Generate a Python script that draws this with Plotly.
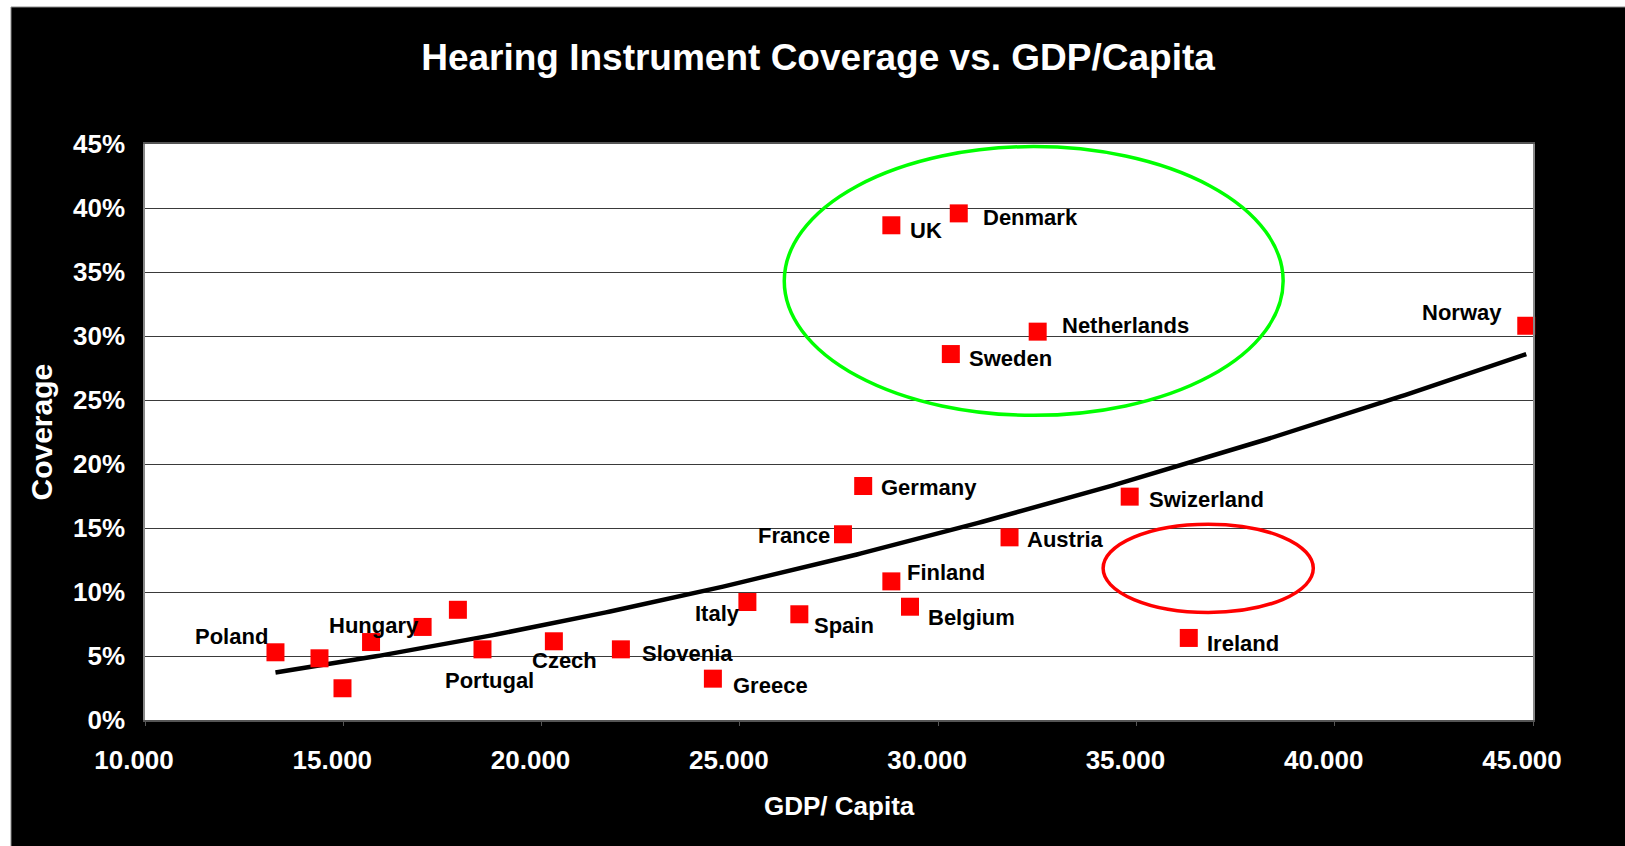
import numpy as np
import plotly.graph_objects as go

# ---- data -------------------------------------------------------------
labels = ["Poland", "", "", "", "Hungary", "", "Portugal", "Czech", "Slovenia",
          "Greece", "Italy", "Spain", "France", "Germany", "Finland", "UK",
          "Belgium", "Sweden", "Denmark", "Austria", "Netherlands",
          "Swizerland", "Ireland", "Norway"]
gdp_per_capita = [13290, 14400, 14980, 15700, 17000, 17890, 18510, 20310, 22000,
                  24320, 25190, 26500, 27600, 28110, 28820, 28820,
                  29290, 30320, 30520, 31800, 32510,
                  34830, 36320, 44830]
coverage_pct = [5.29, 4.82, 2.48, 6.09, 7.27, 8.61, 5.52, 6.15, 5.52,
                3.23, 9.22, 8.26, 14.51, 18.28, 10.83, 38.65,
                8.85, 28.59, 39.58, 14.27, 30.34,
                17.45, 6.41, 30.80]

x_ticks = [10000, 15000, 20000, 25000, 30000, 35000, 40000, 45000]
y_ticks = [0, 5, 10, 15, 20, 25, 30, 35, 40, 45]
y_tick_text = [f"{v}%" for v in y_ticks]

# highlighted groups (GDP range, coverage range)
green_ring = dict(x=(26120, 38700), y=(23.8, 44.8))
red_ring = dict(x=(34160, 39460), y=(8.4, 15.3))

# ---- label placement: anchor side, x offset px, y offset px (down +) ---
label_pos = {
    "Poland": ("right", -5, -15.6),
    "Hungary": ("right", -2, -1.5),
    "Portugal": ("center", 7.4, 31),
    "Czech": ("center", 10.5, 19),
    "Slovenia": ("left", 19, 4.5),
    "Greece": ("left", 18.5, 7),
    "Italy": ("right", -5, 12),
    "Spain": ("left", 13, 11.7),
    "France": ("right", -10.5, 1.7),
    "Germany": ("left", 15.5, 1.7),
    "Finland": ("left", 14, -9),
    "UK": ("left", 17, 5.7),
    "Belgium": ("left", 15.8, 11),
    "Sweden": ("left", 15.8, 4.3),
    "Denmark": ("left", 21.8, 4.4),
    "Austria": ("left", 15, 2),
    "Netherlands": ("left", 22.8, -6.4),
    "Swizerland": ("left", 17, 2.6),
    "Ireland": ("left", 16.5, 6),
    "Norway": ("right", -21.8, -13),
}

W, H = 1625, 846
ML, MR, MT, MB = 145, 92, 144, 126
PW, PH = W - ML - MR, H - MT - MB
FONT = "Liberation Sans, Arial, sans-serif"

# power-law trendline (least squares in log-log space)
lx = np.log(np.array(gdp_per_capita, dtype=float))
ly = np.log(np.array(coverage_pct, dtype=float))
p, ln_a = np.polyfit(lx, ly, 1)
trend_x = np.linspace(min(gdp_per_capita), max(gdp_per_capita), 300)
trend_y = np.exp(ln_a) * trend_x ** p

fig = go.Figure()
fig.add_trace(go.Scatter(
    x=trend_x, y=trend_y, mode="lines",
    line=dict(color="black", width=4.5), hoverinfo="skip", showlegend=False))
fig.add_trace(go.Scatter(
    x=gdp_per_capita, y=coverage_pct, mode="markers",
    marker=dict(symbol="square", size=18, color="#FF0000", line=dict(width=0)),
    text=labels, cliponaxis=False, showlegend=False))

annotations = []
for name, gx, cy in zip(labels, gdp_per_capita, coverage_pct):
    if not name:
        continue
    side, dx, dy = label_pos[name]
    annotations.append(dict(
        x=gx, y=cy, xref="x", yref="y", text=name, showarrow=False,
        xanchor=side, yanchor="middle", xshift=dx, yshift=-dy,
        font=dict(family=FONT, size=22, color="black", weight="bold")))

# axis titles
annotations.append(dict(
    x=0.5, y=0, xref="paper", yref="paper", text="GDP/ Capita", showarrow=False,
    xanchor="center", yanchor="middle", yshift=-(806 - (H - MB)),
    font=dict(family=FONT, size=26, color="white", weight="bold")))
annotations.append(dict(
    x=0, y=0.5, xref="paper", yref="paper", text="Coverage", showarrow=False,
    textangle=-90, xanchor="center", yanchor="middle", xshift=-(ML - 40.5),
    font=dict(family=FONT, size=30, color="white", weight="bold")))


def px_x(px):
    return (px - ML) / PW


def px_y(py):
    return (H - MB - py) / PH


shapes = [
    # white margin strips around the black panel
    dict(type="rect", xref="paper", yref="paper", x0=px_x(0), x1=px_x(11),
         y0=px_y(H), y1=px_y(0), fillcolor="white", line=dict(width=0), layer="above"),
    dict(type="rect", xref="paper", yref="paper", x0=px_x(0), x1=px_x(W),
         y0=px_y(7), y1=px_y(0), fillcolor="white", line=dict(width=0), layer="above"),
    dict(type="line", xref="paper", yref="paper", x0=px_x(11), x1=px_x(W),
         y0=px_y(7), y1=px_y(7), line=dict(color="#8a8a8a", width=1)),
    dict(type="line", xref="paper", yref="paper", x0=px_x(11), x1=px_x(11),
         y0=px_y(7), y1=px_y(H), line=dict(color="#8a8a8a", width=1)),
    # highlight rings
    dict(type="circle", xref="x", yref="y",
         x0=green_ring["x"][0], x1=green_ring["x"][1],
         y0=green_ring["y"][0], y1=green_ring["y"][1],
         line=dict(color="#00FF00", width=3.5), layer="above"),
    dict(type="circle", xref="x", yref="y",
         x0=red_ring["x"][0], x1=red_ring["x"][1],
         y0=red_ring["y"][0], y1=red_ring["y"][1],
         line=dict(color="#FF0000", width=3.5), layer="above"),
]

fig.update_layout(
    width=W, height=H,
    margin=dict(l=ML, r=MR, t=MT, b=MB, pad=0),
    paper_bgcolor="black", plot_bgcolor="white",
    separators=",.",
    title=dict(text="Hearing Instrument Coverage vs. GDP/Capita",
               x=818 / W, y=1 - 57 / H, xref="container", yref="container",
               xanchor="center", yanchor="middle",
               font=dict(family=FONT, size=37, color="white", weight="bold")),
    xaxis=dict(range=[10000, 45000], tickvals=x_ticks, tickformat=",d",
               showgrid=False, zeroline=False,
               showline=True, linecolor="#555555", linewidth=2, mirror=True,
               ticks="outside", ticklen=4, tickcolor="#555555",
               ticklabelstandoff=12, ticklabelshift=-11,
               tickfont=dict(family=FONT, size=26, color="white", weight="bold")),
    yaxis=dict(range=[0, 45], tickvals=y_ticks, ticktext=y_tick_text,
               showgrid=True, gridcolor="#3a3a3a", gridwidth=1, zeroline=False,
               showline=True, linecolor="#888888", linewidth=1.5, mirror=True,
               ticks="", ticklabelstandoff=13,
               tickfont=dict(family=FONT, size=26, color="white", weight="bold")),
    annotations=annotations,
    shapes=shapes,
    showlegend=False,
)

fig.write_html("out.html")
